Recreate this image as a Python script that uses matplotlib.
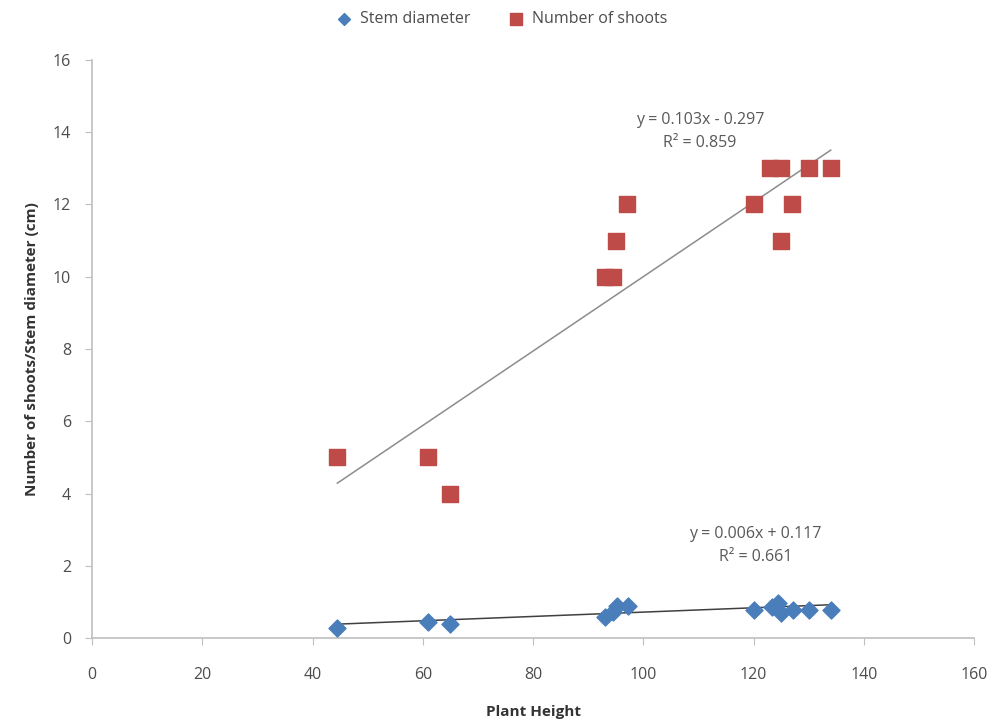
import numpy as np
import matplotlib
matplotlib.use("Agg")
import matplotlib.pyplot as plt

plt.rcParams['font.family'] = ['Open Sans', 'DejaVu Sans']

# plant height vs number of shoots
shoot_x = [44.5, 61, 65, 93, 94.5, 95, 97, 120, 123, 125, 125, 127, 130, 134]
shoot_y = [5, 5, 4, 10, 10, 11, 12, 12, 13, 13, 11, 12, 13, 13]

# plant height vs stem diameter
stem_x = [44.5, 61, 65, 93, 94.5, 95.2, 97.3, 120, 123.3, 124.5, 124.9, 127.2, 130, 134]
stem_y = [0.28, 0.45, 0.39, 0.57, 0.73, 0.89, 0.89, 0.78, 0.85, 0.97, 0.69, 0.78, 0.78, 0.78]

# trendline coefficients as printed on the chart
shoot_fit = (0.103, -0.297, 0.859)
stem_fit = (0.006, 0.117, 0.661)

blue = '#4A7EBB'
red = '#BE4B48'
grey = '#595959'

fig = plt.figure(figsize=(9.96, 7.27), dpi=100)
ax = fig.add_axes([0.0924, 0.1224, 0.8856, 0.7951])

ax.scatter(stem_x, stem_y, marker='D', s=75, color=blue, zorder=3, label='Stem diameter')
ax.scatter(shoot_x, shoot_y, marker='s', s=145, color=red, zorder=3, label='Number of shoots')

xs = np.array([min(shoot_x), max(shoot_x)])
ax.plot(xs, shoot_fit[0] * xs + shoot_fit[1], color='#8C8C8C', lw=1.1, zorder=2)
xs2 = np.array([min(stem_x), max(stem_x)])
ax.plot(xs2, stem_fit[0] * xs2 + stem_fit[1], color='#404040', lw=1.1, zorder=2)

ax.text(110.3, 14.35, 'y = 0.103x - 0.297', ha='center', va='center', fontsize=11.5, color=grey)
ax.text(110.3, 13.7, 'R² = 0.859', ha='center', va='center', fontsize=11.5, color=grey)
ax.text(120.3, 2.88, 'y = 0.006x + 0.117', ha='center', va='center', fontsize=11.5, color=grey)
ax.text(120.3, 2.24, 'R² = 0.661', ha='center', va='center', fontsize=11.5, color=grey)

ax.set_xlim(0, 160)
ax.set_ylim(0, 16)
ax.set_xticks(range(0, 161, 20))
ax.set_yticks(range(0, 17, 2))

for s in ['top', 'right']:
    ax.spines[s].set_visible(False)
for s in ['left', 'bottom']:
    ax.spines[s].set_color('#BFBFBF')
    ax.spines[s].set_linewidth(1.2)
ax.tick_params(colors='#BFBFBF', labelcolor='#4D4D4D', labelsize=11.5, length=5, direction='out')
ax.tick_params(axis='x', pad=16)
ax.tick_params(axis='y', pad=10)

ax.set_xlabel('Plant Height', fontsize=11, fontweight='bold', color='#333333', labelpad=16)
ax.set_ylabel('Number of shoots/Stem diameter (cm)', fontsize=11, fontweight='bold', color='#333333', labelpad=10)

ax.legend(loc='upper center', bbox_to_anchor=(0.46, 1.11), ncol=2, frameon=False,
          fontsize=11.5, handletextpad=0.05, columnspacing=1.8, markerscale=0.7,
          labelcolor='#4D4D4D')

fig.savefig('out.png', dpi=100)
